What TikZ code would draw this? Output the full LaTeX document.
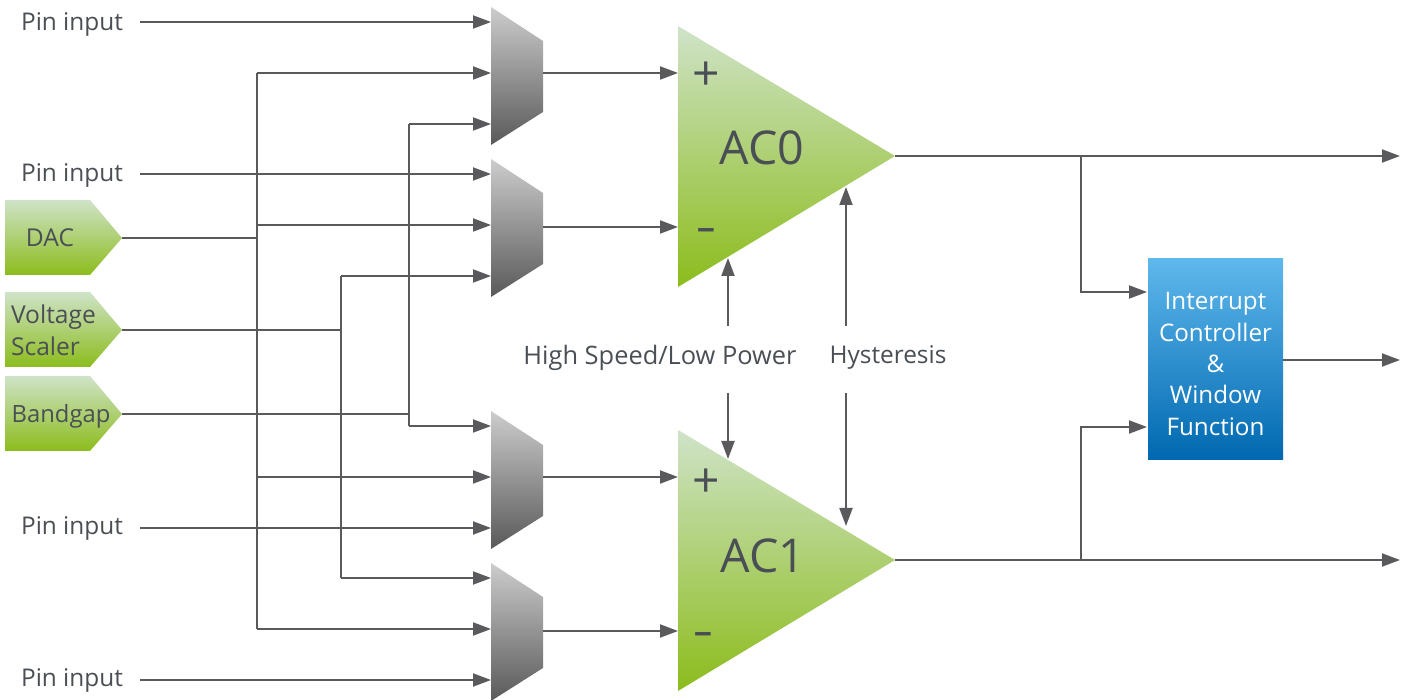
\documentclass[tikz,border=0pt]{standalone}
\usepackage{fontspec}
\setmainfont{Open Sans}
\usetikzlibrary{arrows.meta,calc}
\definecolor{wire}{HTML}{5A5A5C}
\definecolor{ink}{HTML}{4A4F55}
\definecolor{gtop}{HTML}{CFE3C8}
\definecolor{gbot}{HTML}{8CBC1C}
\definecolor{btop}{HTML}{5FB8EC}
\definecolor{bbot}{HTML}{0068B0}
\tikzset{
  x=0.5pt,y=-0.5pt,
  wirel/.style={draw=wire,line width=1pt},
  arrowl/.style={wirel,-{Triangle[length=9pt,width=6.5pt]}},
  lbl/.style={text=ink,font=\fontsize{12.2}{14}\selectfont,inner sep=0pt,align=center},
  srclbl/.style={lbl,font=\fontsize{12.3}{16}\selectfont},
  plussign/.style={text=ink,font=\fontsize{24}{24}\selectfont,inner sep=0pt},
  minussign/.style={text=ink,font=\fontsize{16}{16}\selectfont\bfseries,inner sep=0pt},
  aclbl/.style={text=ink,font=\fontsize{23.3}{24}\selectfont,inner sep=0pt},
  muxshade/.style={top color=black!20,bottom color=black!65,draw=none},
  greenshade/.style={top color=gtop,bottom color=gbot,draw=none},
}
\newcommand{\muxshape}[2]{%
  \shade[muxshade] (491,#1) -- (543,#1+34) -- (543,#1+105) -- (491,#1+138) -- cycle;
  \coordinate (#2a) at (491,#1+15);
  \coordinate (#2b) at (491,#1+66);
  \coordinate (#2c) at (491,#1+117);
}
\newcommand{\srcshape}[2]{%
  \shade[greenshade] (5,#1-38) -- (90,#1-38) -- (122,#1) -- (90,#1+37) -- (5,#1+37) -- cycle;
  \coordinate (#2) at (122,#1);
}
\begin{document}
\begin{tikzpicture}
\useasboundingbox (0,0) rectangle (1410,700);
% multiplexers
\muxshape{7}{ma}
\muxshape{159}{mb}
\muxshape{411}{mc}
\muxshape{563}{md}
% sources
\srcshape{238}{dac}
\srcshape{330}{vs}
\srcshape{414}{bg}
\node[srclbl] (dacl) at (50,238) {DAC};
\node[srclbl,align=left] (vsl) at (53.5,330) {Voltage\\Scaler};
\node[srclbl,font=\fontsize{11.9}{16}\selectfont] (bgl) at (61,416) {Bandgap};
% comparators
\shade[greenshade] (678,26) -- (895,156) -- (678,287) -- cycle;
\shade[greenshade] (678,430) -- (895,560) -- (678,691) -- cycle;
\coordinate (ac0p) at (678,73);
\coordinate (ac0m) at (678,227);
\coordinate (ac0o) at (895,156);
\coordinate (ac1p) at (678,477);
\coordinate (ac1m) at (678,631);
\coordinate (ac1o) at (895,560);
\coordinate (mao) at (543,73);
\coordinate (mbo) at (543,227);
\coordinate (mco) at (543,477);
\coordinate (mdo) at (543,631);
\node[aclbl] (ac0) at (762,148) {AC0};
\node[aclbl] (ac1) at (763,556) {AC1};
\node[plussign] (s0p) at (706,76) {+};
\node[minussign] (s0m) at (706,235) {\textminus};
\node[plussign] (s1p) at (706,483) {+};
\node[minussign] (s1m) at (703,639) {\textminus};
% interrupt block
\node[minimum width=67.5pt,minimum height=100.5pt,inner sep=0pt,top color=btop,bottom color=bbot] (irq) at (1215.5,359.5) {};
\node[text=white,align=center,inner sep=0pt,font=\fontsize{12.1}{15.7}\selectfont] (irqt) at (1215.5,364)
  {Interrupt\\Controller\\\&\\Window\\Function};
% labels
\node[lbl] (p1) at (72,24) {Pin input};
\node[lbl] (p2) at (72,175) {Pin input};
\node[lbl] (p3) at (72,528) {Pin input};
\node[lbl] (p4) at (72,680) {Pin input};
\coordinate (p1e) at (140,22);
\coordinate (p2e) at (140,174);
\coordinate (p3e) at (140,528);
\coordinate (p4e) at (140,680);
\node[lbl,font=\fontsize{12.7}{14}\selectfont] (hs) at (660,357.5) {High Speed/Low Power};
\node[lbl] (hy) at (888,357.5) {Hysteresis};
% bus junctions
\coordinate (b1t) at (257,73);
\coordinate (b1b) at (257,238);
\coordinate (b1c) at (257,225);
\coordinate (b1d) at (257,477);
\coordinate (b1e) at (257,629);
\coordinate (b2t) at (341,276);
\coordinate (b2m) at (341,330);
\coordinate (b2b) at (341,578);
\coordinate (b3t) at (409,124);
\coordinate (b3m) at (409,414);
\coordinate (b3b) at (409,426);
% pin inputs
\draw[arrowl] (p1e) -- (maa);
\draw[arrowl] (p2e) -- (mba);
\draw[arrowl] (p3e) -- (mcc);
\draw[arrowl] (p4e) -- (mdc);
% source buses
\draw[wirel] (dac) -- (b1b);
\draw[wirel] (vs) -- (b2m);
\draw[wirel] (bg) -- (b3m);
\draw[wirel] (b1t) -- (b1e);
\draw[wirel] (b2t) -- (b2b);
\draw[wirel] (b3t) -- (b3b);
\draw[arrowl] (b1t) -- (mab);
\draw[arrowl] (b3t) -- (mac);
\draw[arrowl] (b1c) -- (mbb);
\draw[arrowl] (b2t) -- (mbc);
\draw[arrowl] (b3b) -- (mca);
\draw[arrowl] (b1d) -- (mcb);
\draw[arrowl] (b2b) -- (mda);
\draw[arrowl] (b1e) -- (mdb);
% mux outputs
\draw[arrowl] (mao) -- (ac0p);
\draw[arrowl] (mbo) -- (ac0m);
\draw[arrowl] (mco) -- (ac1p);
\draw[arrowl] (mdo) -- (ac1m);
% control
\coordinate (hsu) at (728,326);
\coordinate (hsd) at (728,393);
\coordinate (hyu) at (846,326);
\coordinate (hyd) at (846,393);
\coordinate (ac0h) at (728,258);
\coordinate (ac1h) at (728,459);
\coordinate (ac0y) at (846,187);
\coordinate (ac1y) at (846,526);
\draw[arrowl] (hsu) -- (ac0h);
\draw[arrowl] (hsd) -- (ac1h);
\draw[arrowl] (hyu) -- (ac0y);
\draw[arrowl] (hyd) -- (ac1y);
% outputs
\coordinate (o0) at (1400,156);
\coordinate (o1) at (1400,560);
\coordinate (o2) at (1400,360);
\coordinate (j0) at (1081,156);
\coordinate (j1) at (1081,560);
\coordinate (i0) at (1147,292);
\coordinate (i1) at (1147,427);
\draw[arrowl] (ac0o) -- (o0);
\draw[arrowl] (ac1o) -- (o1);
\draw[arrowl] (j0) |- (i0);
\draw[arrowl] (j1) |- (i1);
\draw[arrowl] (irq.east |- o2) -- (o2);
\end{tikzpicture}
\end{document}
